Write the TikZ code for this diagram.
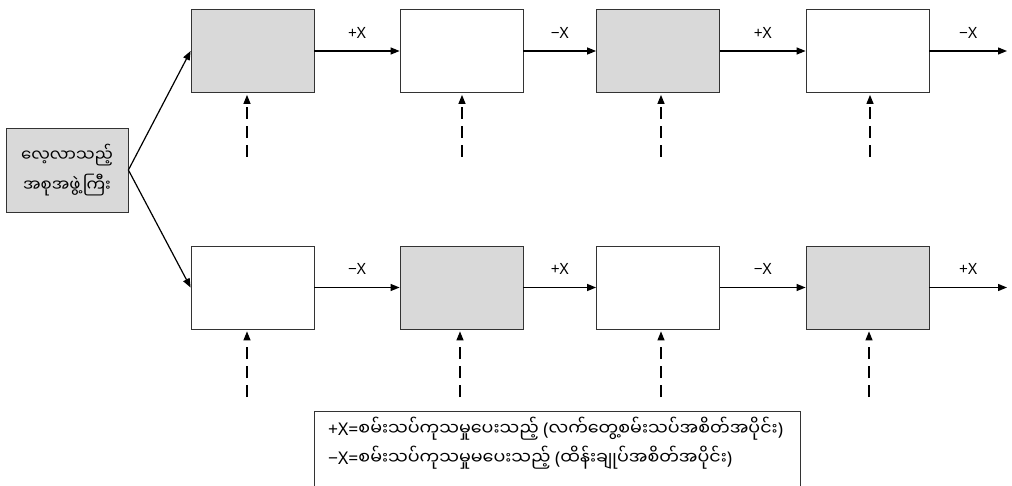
\documentclass[tikz,border=0pt]{standalone}
\usepackage{fontspec}
\setmainfont{Noto Sans}
\newfontfamily\mmfont[Script=Myanmar]{Noto Sans Myanmar UI}
\newcommand{\mmtxt}[1]{{\mmfont #1}}
\usetikzlibrary{arrows.meta}
\definecolor{boxgray}{HTML}{D9D9D9}
\definecolor{edgegray}{HTML}{333333}
\tikzset{
  blk/.style={draw=edgegray, line width=0.8pt, minimum width=123pt, minimum height=83pt, inner sep=0pt},
  grayblk/.style={blk, fill=boxgray},
  whiteblk/.style={blk, fill=white},
  flow/.style={-{Triangle[length=9pt,width=7pt]}, line width=1.2pt},
  dasharrow/.style={-{Triangle[length=9pt,width=7pt]}, line width=1.2pt, dash pattern=on 12pt off 7pt},
  lbl/.style={font=\fontsize{15.5}{18}\selectfont, inner sep=0pt},
  mm/.style={font=\fontsize{16.5}{30}\selectfont\mmfont, align=center},
  legtxt/.style={anchor=west, inner sep=0pt, font=\fontsize{17.5}{20}\selectfont}
}
\begin{document}
\begin{tikzpicture}[x=1pt,y=-1pt]
\useasboundingbox (0,0) rectangle (1012,486);
% left group box
\node[grayblk, minimum width=122pt, minimum height=84pt, mm] (grp) at (67,170) {လေ့လာသည့်\\အစုအဖွဲ့ကြီး};
% top row
\node[grayblk]  (t1) at (252.5,51) {};
\node[whiteblk] (t2) at (461.5,51) {};
\node[grayblk]  (t3) at (658,51) {};
\node[whiteblk] (t4) at (867.5,51) {};
% bottom row
\node[whiteblk] (b1) at (252.5,287.5) {};
\node[grayblk]  (b2) at (461.5,287.5) {};
\node[whiteblk] (b3) at (658,287.5) {};
\node[grayblk]  (b4) at (867.5,287.5) {};
% ends
\coordinate (tend) at (1007,51);
\coordinate (bend) at (1007,287.5);
% branching arrows
\draw[flow] (grp.east) -- (t1.west);
\draw[flow] (grp.east) -- (b1.west);
% chain arrows
\draw[flow] (t1.east) -- node[lbl, above=12pt] {+X} (t2.west);
\draw[flow] (t2.east) -- node[lbl, above=12pt] {−X} (t3.west);
\draw[flow] (t3.east) -- node[lbl, above=12pt] {+X} (t4.west);
\draw[flow] (t4.east) -- node[lbl, above=12pt, pos=0.5] {−X} (tend);
\draw[flow] (b1.east) -- node[lbl, above=12pt] {−X} (b2.west);
\draw[flow] (b2.east) -- node[lbl, above=12pt] {+X} (b3.west);
\draw[flow] (b3.east) -- node[lbl, above=12pt] {−X} (b4.west);
\draw[flow] (b4.east) -- node[lbl, above=12pt, pos=0.5] {+X} (bend);
% dashed inputs
\coordinate (dt1) at (247,157);
\coordinate (dt2) at (462,157);
\coordinate (dt3) at (661,157);
\coordinate (dt4) at (870,157);
\coordinate (db1) at (247,397);
\coordinate (db2) at (460,397);
\coordinate (db3) at (661,397);
\coordinate (db4) at (869,397);
\draw[dasharrow] (dt1) -- ([yshift=-2pt]dt1 |- t1.south);
\draw[dasharrow] (dt2) -- ([yshift=-2pt]dt2 |- t2.south);
\draw[dasharrow] (dt3) -- ([yshift=-2pt]dt3 |- t3.south);
\draw[dasharrow] (dt4) -- ([yshift=-2pt]dt4 |- t4.south);
\draw[dasharrow] (db1) -- ([yshift=-2pt]db1 |- b1.south);
\draw[dasharrow] (db2) -- ([yshift=-2pt]db2 |- b2.south);
\draw[dasharrow] (db3) -- ([yshift=-2pt]db3 |- b3.south);
\draw[dasharrow] (db4) -- ([yshift=-2pt]db4 |- b4.south);
% legend
\draw[draw=edgegray, line width=0.8pt] (314,490) -- (314,411) -- (800,411) -- (800,490);
\node[legtxt] (leg1) at (328,429)
  {+X=\mmtxt{စမ်းသပ်ကုသမှုပေးသည့်} (\mmtxt{လက်တွေ့စမ်းသပ်အစိတ်အပိုင်း})};
\node[legtxt] (leg2) at (328,458)
  {−X=\mmtxt{စမ်းသပ်ကုသမှုမပေးသည့်} (\mmtxt{ထိန်းချုပ်အစိတ်အပိုင်း})};
\end{tikzpicture}
\end{document}
